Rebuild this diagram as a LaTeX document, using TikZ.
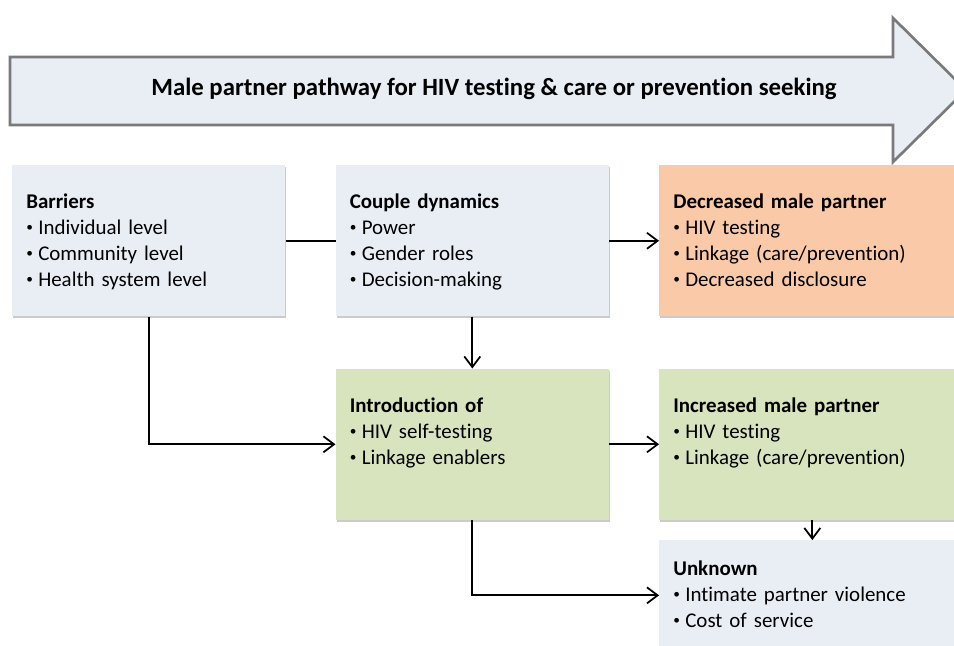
\documentclass[tikz,border=0pt]{standalone}
\usepackage{fontspec}
\setmainfont{Carlito}[Ligatures=NoCommon]
\usepackage{tikz}
\usetikzlibrary{arrows.meta,positioning,shadows}

\definecolor{boxblue}{HTML}{E9EEF5}
\definecolor{boxpeach}{HTML}{FAC9A7}
\definecolor{boxgreen}{HTML}{D7E4BD}
\definecolor{arrowgray}{HTML}{7A7A7A}

\newcommand\bul{\makebox[9pt][l]{\raisebox{.14em}{\fontsize{10}{10}\selectfont•}}}

\begin{document}
\begin{tikzpicture}[x=0.75pt, y=-0.75pt, node distance=37.5pt,
 >={Straight Barb[length=8pt,width=12pt]},
 box/.style = {rectangle, fill=boxblue, text width=183.75pt, align=left,
               inner xsep=10.5pt, inner ysep=21.6pt, text height=11pt, text depth=59.05pt,
               font=\fontsize{15.7}{19.5}\selectfont,
               drop shadow={shadow xshift=0.6pt, shadow yshift=-1.6pt, fill=black!45, opacity=.45}},
 widebox/.style = {box, text width=208.5pt},
 line/.style = {draw, line width=1.3pt},
                        ]
    \clip (0,0) rectangle (954,646);
    \fill[white] (0,0) rectangle (954,646);

%% big arrow
    \draw[line width=2pt, arrowgray, fill=boxblue, line join=miter]
        (10,57) -- (893,57) -- (893,18) -- (966,90) -- (893,162) -- (893,125) -- (10,125) -- cycle;
    \node[font=\fontsize{18.6}{22}\selectfont\bfseries] (pathway) at (494,89)
        {Male partner pathway for HIV testing \& care or prevention seeking};

%% boxes
    \node [box, anchor=north west] (barriers) at (12,165)
        {\textbf{Barriers}\\ \bul Individual level\\ \bul Community level\\ \bul Health system level};
    \node [box, right=of barriers]          (couple)
        {\textbf{Couple dynamics}\\ \bul Power\\ \bul Gender roles\\ \bul Decision-making};
    \node [widebox, fill=boxpeach, right=of couple] (decreased)
        {\textbf{Decreased male partner}\\ \bul HIV testing\\ \bul Linkage (care/prevention)\\ \bul Decreased disclosure};
    \node [box, fill=boxgreen, below=39pt of couple] (intro)
        {\textbf{Introduction of}\\ \bul HIV self-testing\\ \bul Linkage enablers};
    \node [widebox, fill=boxgreen, right=of intro] (increased)
        {\textbf{Increased male partner}\\ \bul HIV testing\\ \bul Linkage (care/prevention)};
    \node [widebox, inner ysep=15.6pt, text depth=40.3pt, below=15pt of increased] (unknown)
        {\textbf{Unknown}\\ \bul Intimate partner violence\\ \bul Cost of service};

%% paths
    \path[line]    (barriers)  --  (couple);
    \path[line,->] (couple)    edge  (decreased)
                   (couple)    edge  (intro)
                   (intro)     edge  (increased)
                   (increased) edge  (unknown);
    \path[line,->] (barriers.south) |- (intro.west);
    \path[line,->] (intro.south)    |- (unknown.west);
\end{tikzpicture}
\end{document}
